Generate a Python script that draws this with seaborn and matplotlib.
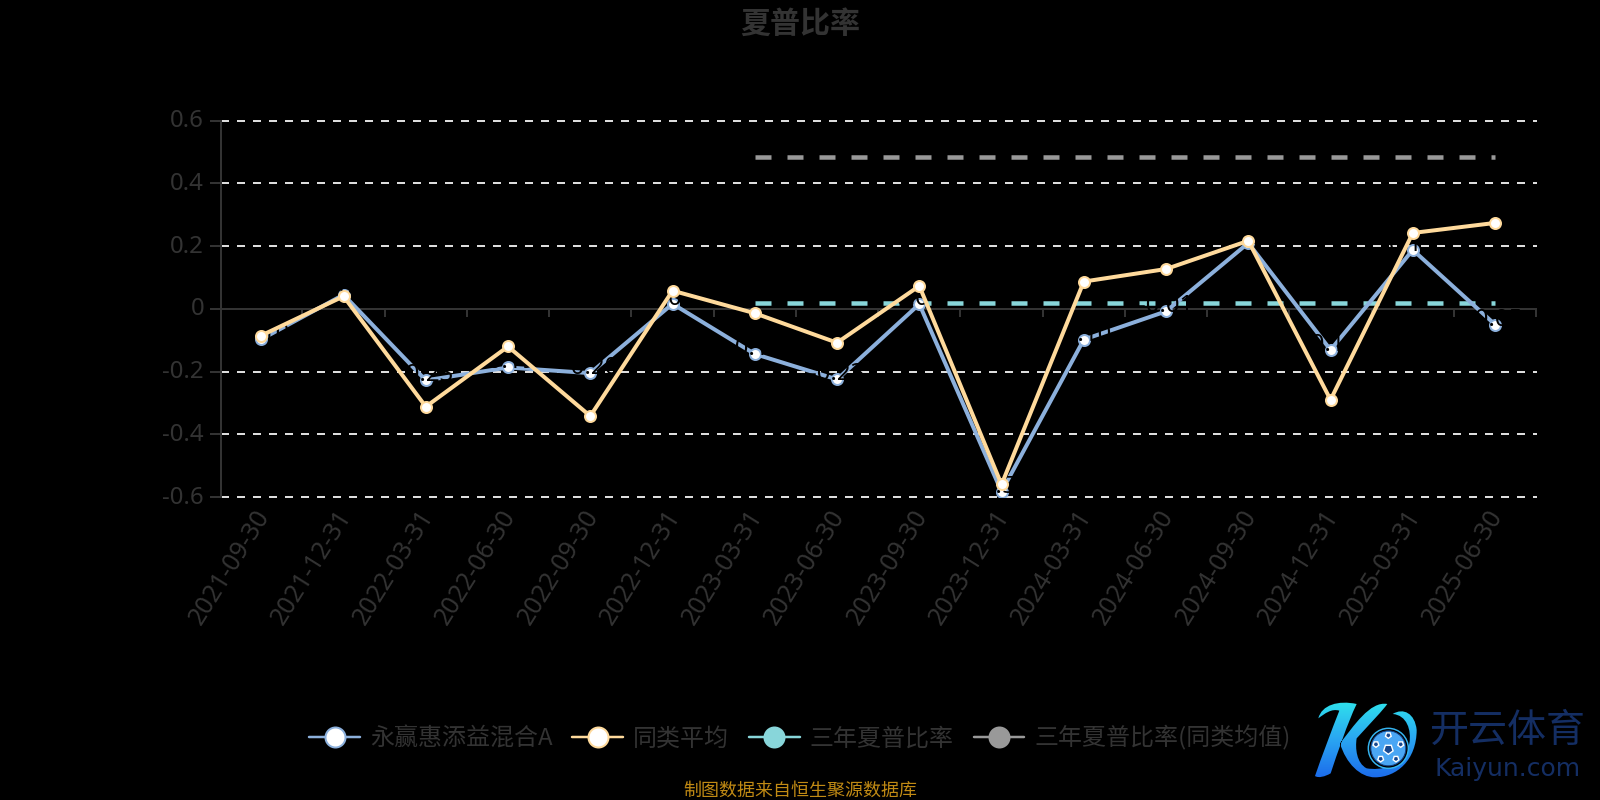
import matplotlib
matplotlib.use("Agg")
import matplotlib.pyplot as plt
import numpy as np
import pandas as pd
import seaborn as sns
from matplotlib.lines import Line2D
from matplotlib.patches import Circle, PathPatch, RegularPolygon
from matplotlib.path import Path
from matplotlib.transforms import ScaledTranslation

fechas = ["2021-09-30", "2021-12-31", "2022-03-31", "2022-06-30", "2022-09-30", "2022-12-31",
          "2023-03-31", "2023-06-30", "2023-09-30", "2023-12-31", "2024-03-31", "2024-06-30",
          "2024-09-30", "2024-12-31", "2025-03-31", "2025-06-30"]
fondo = [-0.097, 0.045, -0.228, -0.187, -0.205, 0.016, -0.144, -0.225,
         0.015, -0.583, -0.098, -0.008, 0.21, -0.131, 0.188, -0.05]
similares = [-0.085, 0.04, -0.312, -0.12, -0.342, 0.058, -0.014, -0.108,
             0.073, -0.56, 0.087, 0.127, 0.217, -0.29, 0.242, 0.274]
fechas_3y = fechas[6:]
sharpe_3y = [0.019] * 10
sharpe_3y_medio = [0.485] * 10
nombres = ["永赢惠添益混合A", "同类平均", "三年夏普比率", "三年夏普比率(同类均值)"]
colores = ["#8CB0DC", "#FFDA9C", "#88D6DA", "#999999"]

OSCURO = "#333333"
px = 0.72  # puntos por pixel a dpi 100

sns.set_theme(style="white")
plt.rcParams["font.family"] = ["Noto Sans CJK SC", "DejaVu Sans"]
plt.rcParams["axes.unicode_minus"] = False

fig = plt.figure(figsize=(16, 8), dpi=100, facecolor="black")
ax = fig.add_axes([221 / 1600, 1 - 497 / 800, 1316 / 1600, 376.3 / 800], facecolor="black")

df = pd.DataFrame({"fecha": fechas, "fondo": fondo, "similares": similares})
for col, color, orden in zip(["fondo", "similares"], colores, [3, 5]):
    sns.lineplot(data=df, x="fecha", y=col, ax=ax, color=color, lw=4 * px, sort=False, zorder=orden,
                 marker="o", ms=11 * px, mfc="white", mec=color, mew=2 * px)
for valores, color in zip([sharpe_3y, sharpe_3y_medio], colores[2:]):
    sns.lineplot(x=fechas_3y, y=valores, ax=ax, color=color, lw=4.5 * px, sort=False, zorder=2.5,
                 linestyle=(0, (16 / 4.5, 16 / 4.5)))

# etiquetas negras sobre fondo negro, solo se notan al cortar las lineas
for i, v in enumerate(fondo):
    ax.annotate(f"{v:.2f}", (i, v), xytext=(0, 5 * px), textcoords="offset points", ha="center",
                va="center", color="black", fontsize=24 * px, family="Noto Sans", fontweight="light",
                zorder=4, annotation_clip=False)

ax.set_xlim(-0.49, 15.51)
ax.set_ylim(-0.6, 0.6)
ax.set_xlabel("")
ax.set_ylabel("")
ax.set_yticks([-0.6, -0.4, -0.2, 0, 0.2, 0.4, 0.6])
ax.set_yticklabels(["-0.6", "-0.4", "-0.2", "0", "0.2", "0.4", "0.6"])
ax.tick_params(axis="y", left=True, length=11 * px, width=2 * px, color=OSCURO, pad=6 * px,
               labelsize=24 * px, labelcolor=OSCURO)
ax.set_xticks(range(16))
ax.tick_params(axis="x", bottom=False, pad=0)
plt.setp(ax.get_xticklabels(), rotation=58, ha="right", va="top", rotation_mode="anchor",
         color=OSCURO, fontsize=25 * px, family="Noto Sans", fontweight="light")
plt.setp(ax.get_yticklabels(), family="Noto Sans", fontweight="light")
for etiqueta in ax.get_xticklabels():
    etiqueta.set_transform(etiqueta.get_transform() + ScaledTranslation(-8 / 100, 0, fig.dpi_scale_trans))
for etiqueta in ax.get_yticklabels():
    etiqueta.set_transform(etiqueta.get_transform() + ScaledTranslation(0, 2.5 / 100, fig.dpi_scale_trans))

ax.grid(False)
for y in [-0.6, -0.4, -0.2, 0.2, 0.4, 0.6]:
    ax.axhline(y, color="#DDDDDD", lw=2 * px, linestyle=(0, (4, 4)), zorder=1, clip_on=False)
ax.axhline(0, color=OSCURO, lw=2 * px, zorder=2)
ax.vlines(np.arange(-0.5, 16), -8 / 313.6, 0, color=OSCURO, lw=2 * px, zorder=2)
for lado in ["top", "right", "bottom"]:
    ax.spines[lado].set_visible(False)
ax.spines["left"].set_color(OSCURO)
ax.spines["left"].set_linewidth(2 * px)

fig.text(0.5, 1 - 24 / 800, "夏普比率", ha="center", va="center", color=OSCURO,
         fontsize=30 * px, fontweight="bold")

marcas = []
for nombre, color, relleno in zip(nombres, colores, ["white", "white", colores[2], colores[3]]):
    marcas.append(Line2D([], [], color=color, lw=2.5 * px, marker="o", ms=20 * px, mfc=relleno,
                         mec=color, mew=2 * px, label=nombre))
fig.legend(handles=marcas, loc="center", bbox_to_anchor=(0.5, 1 - 738 / 800), ncol=4, frameon=False,
           fontsize=24 * px, labelcolor=OSCURO, handlelength=2.12, handletextpad=0.42,
           columnspacing=0.82, numpoints=1, borderpad=0, borderaxespad=0)

fig.text(0.5, 1 - 791 / 800, "制图数据来自恒生聚源数据库", ha="center", va="center",
         color="#C08A14", fontsize=18 * px)

# logo
capa = fig.add_axes([0, 0, 1, 1], facecolor="none")
capa.set_axis_off()


def z(x, y):
    return 1260 + x / 3, 680 + y / 3


trazos = [
    [(175, 115), (185, 75), (235, 60), (290, 72), (262, 130), (232, 220), (212, 280), (195, 290),
     (175, 295), (165, 288), (185, 230), (215, 150), (238, 92), (215, 85), (195, 100), (175, 115)],
    [(382, 72), (330, 62), (280, 140), (240, 190), (258, 250), (300, 292), (345, 292), (410, 292),
     (470, 240), (470, 150), (465, 100), (430, 82), (398, 102), (440, 105), (455, 150), (448, 190),
     (430, 262), (360, 272), (320, 265), (290, 250), (285, 205), (290, 175), (340, 120), (365, 95),
     (382, 72)],
]
vertices, codigos = [], []
for t in trazos:
    for i, p in enumerate(t):
        vertices.append(z(*p))
        codigos.append(Path.MOVETO if i == 0 else Path.CURVE4)
    # cierre
    vertices.append(z(*t[0]))
    codigos.append(Path.CLOSEPOLY)
silueta = Path(vertices, codigos)
gradiente = np.linspace(0, 1, 100).reshape(-1, 1)
mapa = matplotlib.colors.LinearSegmentedColormap.from_list("logo", ["#2FE3EC", "#2AA6F2", "#1C6CEB"])
imagen = capa.imshow(gradiente, cmap=mapa, extent=(1310, 1420, 778, 700), aspect="auto", zorder=1)
imagen.set_clip_path(PathPatch(silueta, transform=capa.transData))

bx, by = z(385, 205)
capa.add_patch(Circle((bx, by), 20, fc="black", ec="#35B4F0", lw=1.5 * px, zorder=2))
capa.add_patch(Circle((bx, by), 17.5, fc="#4AA6F4", ec="#123E80", lw=1 * px, zorder=3))
capa.add_patch(RegularPolygon((bx, by + 1), 5, radius=5, fc="#17488F", zorder=4))
for a in np.deg2rad([90, 162, 234, 306, 18]):
    capa.add_patch(RegularPolygon((bx + 13 * np.cos(a), by - 13 * np.sin(a)), 5, radius=3,
                                  fc="#17488F", zorder=4))
capa.text(1508, 731, "开云体育", ha="center", va="center", color="#142E63", fontsize=39 * px)
capa.text(1508, 769, "Kaiyun.com", ha="center", va="center", color="#142E63", fontsize=25 * px,
          family="DejaVu Sans")
capa.set_xlim(0, 1600)
capa.set_ylim(800, 0)

fig.savefig("out.png", dpi=100, facecolor="black")
